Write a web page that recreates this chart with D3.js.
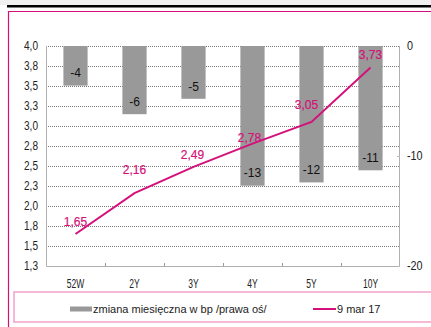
<!DOCTYPE html>
<html>
<head>
<meta charset="utf-8">
<script src="https://cdn.jsdelivr.net/npm/d3@7"></script>
<style>
  html, body { margin: 0; padding: 0; background: #fff; }
  svg { display: block; }
</style>
</head>
<body>
<div id="chart"></div>
<script>
// data
var categories = ['52W', '2Y', '3Y', '4Y', '5Y', '10Y'];
// monthly change in bp (right axis), bars
var monthlyChange = [-3.6, -6.2, -4.8, -12.7, -12.4, -11.3];
// yields on 9 mar 17 (left axis), line
var yields = [1.65, 2.16, 2.49, 2.78, 3.05, 3.73];
var leftTicks = [4.0, 3.75, 3.5, 3.25, 3.0, 2.75, 2.5, 2.25, 2.0, 1.75, 1.5, 1.25];
var rightTicks = [0, -10, -20];
var barSeriesName = 'zmiana miesięczna w bp /prawa oś/';
var lineSeriesName = '9 mar 17';

// settings
var W = 431, H = 327;
var plot = { left: 46, right: 400, top: 46, bottom: 266 };
var magenta = '#d4117a';
var barGray = '#999999';
var font = '"Liberation Sans", Arial, sans-serif';
// hand placed offsets of the line labels, as in the original
var lineLabelDx = [0, 0, -1, -3, -5, 0];
var lineLabelDy = [-12, -23, -12, -6, -17, -13];

var svg = d3.select('#chart').append('svg')
    .attr('width', W)
    .attr('height', H);

// page decoration: grey strip, black rule, magenta frame
svg.append('rect').attr('x', 0).attr('y', 0).attr('width', W).attr('height', 5).attr('fill', '#f0f0f0');
svg.append('line').attr('x1', 7).attr('x2', W).attr('y1', 6.2).attr('y2', 6.2)
    .attr('stroke', '#000').attr('stroke-width', 2.5);
svg.append('path').attr('d', 'M8.5,' + (H + 2) + 'V11.5H' + (W + 2))
    .attr('fill', 'none').attr('stroke', magenta).attr('stroke-width', 1.2);

// scales
var x = d3.scaleBand()
    .domain(categories)
    .range([plot.left, plot.right])
    .paddingInner(0.59)
    .paddingOuter(0.295);
var step = x.step();
var xc = function(c) { return x(c) + x.bandwidth() / 2; };

var yL = d3.scaleLinear().domain([1.25, 4.0]).range([plot.bottom, plot.top]);
var yR = d3.scaleLinear().domain([-20, 0]).range([plot.bottom, plot.top]);

var chart = svg.append('g');

// gridlines (dotted)
chart.append('g')
    .selectAll('line')
    .data(leftTicks.slice(0, -1))
    .enter()
    .append('line')
    .attr('x1', plot.left)
    .attr('x2', plot.right)
    .attr('y1', d => Math.round(yL(d)) + 0.5)
    .attr('y2', d => Math.round(yL(d)) + 0.5)
    .attr('stroke', '#7a7a7a')
    .attr('stroke-width', 1)
    .attr('stroke-dasharray', '1,1');

// bars hanging from zero
chart.append('g')
    .selectAll('rect')
    .data(monthlyChange)
    .enter()
    .append('rect')
    .attr('x', (d, i) => x(categories[i]))
    .attr('y', yR(0))
    .attr('width', x.bandwidth())
    .attr('height', d => yR(d) - yR(0))
    .attr('fill', barGray);

// bar value labels
chart.append('g')
    .selectAll('text')
    .data(monthlyChange)
    .enter()
    .append('text')
    .attr('x', (d, i) => xc(categories[i]))
    .attr('y', d => yR(d) - 12.5)
    .attr('dy', '0.35em')
    .attr('text-anchor', 'middle')
    .attr('font-family', font)
    .attr('font-size', 12)
    .attr('fill', '#111')
    .text(d => d3.format('.0f')(d).replace('−', '-'));

// plot frame: left, right and bottom axis lines
chart.append('path')
    .attr('d', 'M' + (plot.left + 0.5) + ',' + plot.top + 'V' + (plot.bottom + 0.5) +
        'H' + (plot.right - 0.5) + 'V' + plot.top)
    .attr('fill', 'none')
    .attr('stroke', '#b0b0b0')
    .attr('stroke-width', 1);

// category ticks on the bottom axis (pointing up)
chart.append('g')
    .selectAll('line')
    .data(categories.slice(1))
    .enter()
    .append('line')
    .attr('x1', d => Math.round(x(d) - (step - x.bandwidth()) / 2) + 0.5)
    .attr('x2', d => Math.round(x(d) - (step - x.bandwidth()) / 2) + 0.5)
    .attr('y1', plot.bottom)
    .attr('y2', plot.bottom - 3)
    .attr('stroke', '#999');

// right axis tick in the middle
chart.append('g')
    .selectAll('line')
    .data(rightTicks.slice(1, -1))
    .enter()
    .append('line')
    .attr('x1', plot.right - 3)
    .attr('x2', plot.right)
    .attr('y1', d => Math.round(yR(d)) + 0.5)
    .attr('y2', d => Math.round(yR(d)) + 0.5)
    .attr('stroke', '#bbb');

// x labels (condensed, like the narrow font of the original)
chart.append('g')
    .selectAll('text')
    .data(categories)
    .enter()
    .append('text')
    .attr('transform', d => 'translate(' + xc(d) + ',' + (plot.bottom + 21.5) + ') scale(0.68,1)')
    .attr('text-anchor', 'middle')
    .attr('font-family', font)
    .attr('font-size', 12.5)
    .attr('fill', '#222')
    .text(d => d);

// left axis labels
chart.append('g')
    .selectAll('text')
    .data(leftTicks)
    .enter()
    .append('text')
    .attr('transform', d => 'translate(38,' + yL(d) + ') scale(0.84,1)')
    .attr('dy', '0.35em')
    .attr('text-anchor', 'end')
    .attr('font-family', font)
    .attr('font-size', 12)
    .attr('fill', '#222')
    .text(d => d.toFixed(1).replace('.', ','));

// right axis labels
chart.append('g')
    .selectAll('text')
    .data(rightTicks)
    .enter()
    .append('text')
    .attr('transform', d => 'translate(407,' + yR(d) + ') scale(0.9,1)')
    .attr('dy', '0.35em')
    .attr('text-anchor', 'start')
    .attr('font-family', font)
    .attr('font-size', 12)
    .attr('fill', '#222')
    .text(d => d);

// the yield line
var line = d3.line()
    .x((d, i) => xc(categories[i]))
    .y(d => yL(d));

chart.append('path')
    .datum(yields)
    .attr('d', line)
    .attr('fill', 'none')
    .attr('stroke', magenta)
    .attr('stroke-width', 2);

// line value labels
chart.append('g')
    .selectAll('text')
    .data(yields)
    .enter()
    .append('text')
    .attr('x', (d, i) => xc(categories[i]) + lineLabelDx[i])
    .attr('y', (d, i) => yL(d) + lineLabelDy[i])
    .attr('dy', '0.35em')
    .attr('text-anchor', 'middle')
    .attr('font-family', font)
    .attr('font-size', 12)
    .attr('fill', magenta)
    .attr('stroke', magenta)
    .attr('stroke-width', 0.2)
    .text(d => d.toFixed(2).replace('.', ','));

// legend
var legend = svg.append('g');
legend.append('rect')
    .attr('x', 14)
    .attr('y', 292)
    .attr('width', W)
    .attr('height', 30)
    .attr('fill', 'none')
    .attr('stroke', '#f0a3c9')
    .attr('stroke-width', 1.5);
legend.append('rect')
    .attr('x', 70).attr('y', 306.5).attr('width', 22).attr('height', 5)
    .attr('fill', barGray);
legend.append('text')
    .attr('x', 93).attr('y', 313)
    .attr('font-family', font).attr('font-size', 11).attr('fill', '#222')
    .text(barSeriesName);
legend.append('line')
    .attr('x1', 313).attr('x2', 336).attr('y1', 309).attr('y2', 309)
    .attr('stroke', magenta).attr('stroke-width', 2);
legend.append('text')
    .attr('x', 337).attr('y', 313)
    .attr('font-family', font).attr('font-size', 11).attr('fill', '#222')
    .text(lineSeriesName);
</script>
</body>
</html>
